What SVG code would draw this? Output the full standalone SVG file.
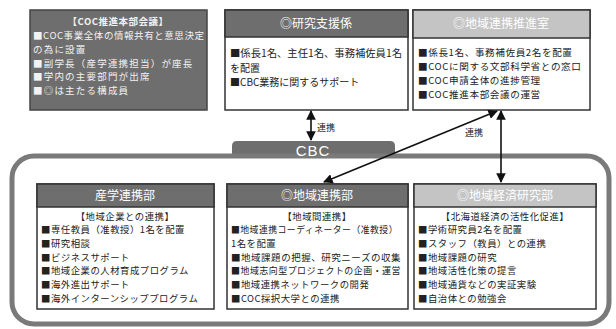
<svg xmlns="http://www.w3.org/2000/svg" width="616" height="329" viewBox="0 0 616 329">
<defs>
<marker id="ah" viewBox="0 0 10 10" refX="9" refY="5" markerWidth="6" markerHeight="6" orient="auto-start-reverse"><path d="M0,0 L10,5 L0,10 z" fill="#111"/></marker>
</defs>
<style>
text{font-family:"Noto Sans CJK JP","Noto Sans",sans-serif;}
.dark{fill:#6e6e6e}
.light{fill:#c4c4c4}
.box{fill:#fff;stroke:#333;stroke-width:1.5}
.hd{fill:#fff;font-size:12px;text-anchor:middle}
.tx{fill:#222;font-size:9.6px;letter-spacing:0.6px}
.tm{fill:#222;font-size:10px}
.bt{fill:#222;font-size:9.4px;letter-spacing:0.5px}
.wt{fill:#f2f2f2;font-size:9.5px;letter-spacing:1.2px}
.ln{stroke:#111;stroke-width:1.6;fill:none}
.lb{fill:#222;font-size:9px}
</style>
<rect width="616" height="329" fill="#fff"/>
<g id="frame">
<path d="M232,158 V146 Q232,141 237,141 H390 Q395,141 395,146 V158 Z" class="dark"/>
<rect x="12" y="156" width="597" height="168" rx="22" fill="none" stroke="#7a7a7a" stroke-width="5"/>
<text x="313" y="156" text-anchor="middle" fill="#fff" font-size="15" style="font-family:'Liberation Sans',sans-serif;letter-spacing:1px">CBC</text>
</g>
<g id="coc-council">
<rect x="30" y="10" width="177" height="100" class="dark" stroke="#444" stroke-width="1.5"/>
<text x="118" y="25" class="wt" text-anchor="middle" font-weight="bold" style="letter-spacing:0.5px">【COC推進本部会議】</text>
<text x="33" y="39" class="wt" style="letter-spacing:0" textLength="171" lengthAdjust="spacing">■COC事業全体の情報共有と意思決定</text>
<text x="33" y="52.8" class="wt">の為に設置</text>
<text x="33" y="66.6" class="wt">■副学長（産学連携担当）が座長</text>
<text x="33" y="80.4" class="wt">■学内の主要部門が出席</text>
<text x="33" y="94.2" class="wt">■◎は主たる構成員</text>
</g>
<g id="research-support">
<rect x="225" y="10" width="183" height="100" class="box"/>
<rect x="225" y="10" width="183" height="27" class="dark" stroke="#333" stroke-width="1.5"/>
<text x="316" y="28" class="hd">◎研究支援係</text>
<text x="230" y="57" class="tm" textLength="172" lengthAdjust="spacingAndGlyphs">■係長1名、主任1名、事務補佐員1名</text>
<text x="230" y="71.5" class="tm">を配置</text>
<text x="230" y="86" class="tm">■CBC業務に関するサポート</text>
</g>
<g id="regional-office">
<rect x="413" y="10" width="177" height="100" class="box"/>
<rect x="413" y="10" width="177" height="28" class="light" stroke="#333" stroke-width="1.5"/>
<text x="501" y="28" class="hd">◎地域連携推進室</text>
<text x="418" y="56" class="tx">■係長1名、事務補佐員2名を配置</text>
<text x="418" y="70" class="tx">■COCに関する文部科学省との窓口</text>
<text x="418" y="84" class="tx">■COC申請全体の進捗管理</text>
<text x="418" y="98" class="tx">■COC推進本部会議の運営</text>
</g>
<g id="industry">
<rect x="37" y="184" width="177" height="125" class="box"/>
<rect x="37" y="184" width="177" height="23" class="dark" stroke="#333" stroke-width="1.5"/>
<text x="125" y="200" class="hd">産学連携部</text>
<text x="125" y="219.5" class="bt" text-anchor="middle">【地域企業との連携】</text>
<text x="41" y="233.2" class="bt">■専任教員（准教授）1名を配置</text>
<text x="41" y="246.9" class="bt">■研究相談</text>
<text x="41" y="260.6" class="bt">■ビジネスサポート</text>
<text x="41" y="274.3" class="bt">■地域企業の人材育成プログラム</text>
<text x="41" y="288" class="bt">■海外進出サポート</text>
<text x="41" y="301.7" class="bt">■海外インターンシッププログラム</text>
</g>
<g id="regional">
<rect x="227" y="184" width="181" height="125" class="box"/>
<rect x="227" y="184" width="181" height="23" class="dark" stroke="#333" stroke-width="1.5"/>
<text x="317" y="200" class="hd">◎地域連携部</text>
<text x="317" y="219.5" class="bt" text-anchor="middle">【地域間連携】</text>
<text x="231" y="233.2" class="bt" textLength="167" lengthAdjust="spacingAndGlyphs">■地域連携コーディネーター（准教授）</text>
<text x="231" y="246.9" class="bt">1名を配置</text>
<text x="231" y="260.6" class="bt" textLength="170" lengthAdjust="spacingAndGlyphs">■地域課題の把握、研究ニーズの収集</text>
<text x="231" y="274.3" class="bt" textLength="170" lengthAdjust="spacingAndGlyphs">■地域志向型プロジェクトの企画・運営</text>
<text x="231" y="288" class="bt">■地域連携ネットワークの開発</text>
<text x="231" y="301.7" class="bt">■COC採択大学との連携</text>
</g>
<g id="economy">
<rect x="414" y="184" width="182" height="125" class="box"/>
<rect x="414" y="184" width="182" height="23" class="light" stroke="#333" stroke-width="1.5"/>
<text x="505" y="200" class="hd">◎地域経済研究部</text>
<text x="505" y="219.5" class="bt" text-anchor="middle">【北海道経済の活性化促進】</text>
<text x="418" y="233.2" class="bt">■学術研究員2名を配置</text>
<text x="418" y="246.9" class="bt">■スタッフ（教員）との連携</text>
<text x="418" y="260.6" class="bt">■地域課題の研究</text>
<text x="418" y="274.3" class="bt">■地域活性化策の提言</text>
<text x="418" y="288" class="bt">■地域通貨などの実証実験</text>
<text x="418" y="301.7" class="bt">■自治体との勉強会</text>
</g>
<g id="connectors">
<line x1="311" y1="111" x2="311" y2="140" class="ln" marker-start="url(#ah)" marker-end="url(#ah)"/>
<text x="317" y="131" class="lb">連携</text>
<line x1="497" y1="111" x2="324" y2="182" class="ln" marker-start="url(#ah)" marker-end="url(#ah)"/>
<line x1="501" y1="111" x2="501" y2="182" class="ln" marker-start="url(#ah)" marker-end="url(#ah)"/>
<text x="465" y="136" class="lb">連携</text>
</g>
</svg>
